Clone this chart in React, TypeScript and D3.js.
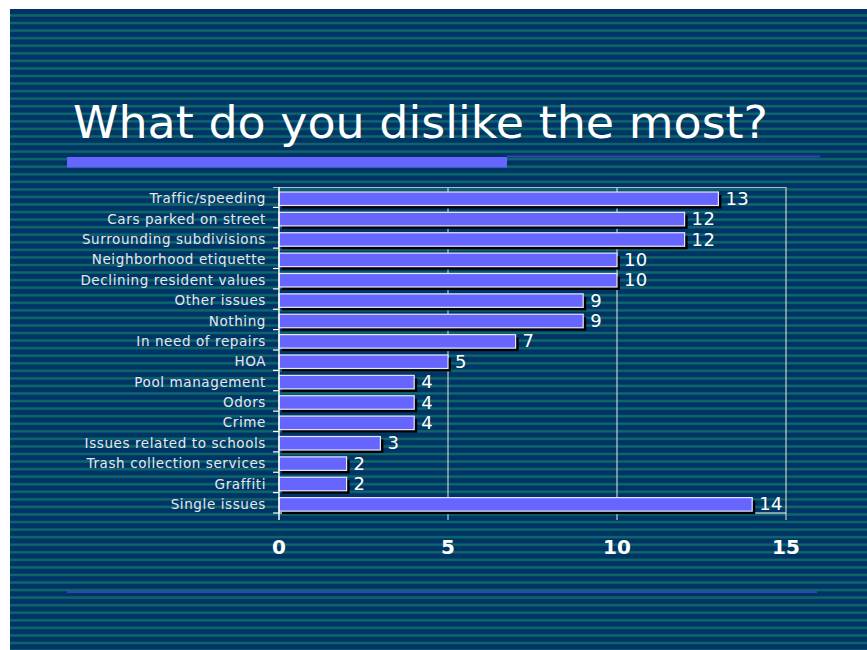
import React from "react";
import * as d3 from "d3";

const categories = [
  "Traffic/speeding",
  "Cars parked on street",
  "Surrounding subdivisions",
  "Neighborhood etiquette",
  "Declining resident values",
  "Other issues",
  "Nothing",
  "In need of repairs",
  "HOA",
  "Pool management",
  "Odors",
  "Crime",
  "Issues related to schools",
  "Trash collection services",
  "Graffiti",
  "Single issues",
];
const values = [13, 12, 12, 10, 10, 9, 9, 7, 5, 4, 4, 4, 3, 2, 2, 14];
const xTicks = [0, 5, 10, 15];
const title = "What do you dislike the most?";

const W = 867;
const H = 650;
const FONT = "'DejaVu Sans', Verdana, sans-serif";

export default function App() {
  const x = d3.scaleLinear().domain([0, 15]).range([279, 786]);
  const y = d3.scaleBand<string>().domain(categories).range([187, 513]).padding(0);

  const stripes: number[] = [];
  for (let s = 14.5 - 7.56; s < H; s += 7.56) stripes.push(s);

  return (
    <svg
      width={W}
      height={H}
      style={{ position: "absolute", left: 0, top: 0, display: "block" }}
      fontFamily={FONT}
    >
      <rect x={0} y={0} width={W} height={H} fill="#ffffff" />
      <rect x={10} y={9} width={W - 10} height={H - 9} fill="#003366" />
      <g>
        {stripes
          .filter((s) => s > 9)
          .map((s, i) => (
            <g key={i}>
              <rect x={10} y={s - 0.5} width={W - 10} height={3} fill="#07506a" />
              <rect x={10} y={s} width={W - 10} height={2} fill="#0e6669" />
            </g>
          ))}
      </g>

      {/* title */}
      <text
        x={73}
        y={138}
        fill="#ffffff"
        fontSize={44}
        textLength={695}
        lengthAdjust="spacingAndGlyphs"
      >
        {title}
      </text>
      <rect x={67} y={157} width={440} height={10.5} fill="#6666ff" />
      <rect x={507} y={155.5} width={313} height={2} fill="#3344bb" />
      <rect x={67} y={591} width={750} height={2} fill="#3344bb" />

      {/* gridlines */}
      {xTicks.slice(1).map((t) => (
        <line
          key={"g" + t}
          x1={x(t)}
          x2={x(t)}
          y1={187}
          y2={520}
          stroke="#e8e8e8"
          strokeWidth={1}
        />
      ))}
      {/* frame */}
      <line x1={273} x2={786} y1={187.5} y2={187.5} stroke="#b8b8c8" strokeWidth={1.2} />
      <line x1={279} x2={786} y1={513} y2={513} stroke="#ffffff" strokeWidth={1.2} />

      {/* bars */}
      {categories.map((c, i) => {
        const top = (y(c) as number) + 5;
        const h = 13.5;
        const w = x(values[i]) - x(0);
        return (
          <g key={c}>
            <rect x={x(0) + 3} y={top + 3} width={w} height={h} fill="#000000" />
            <rect
              x={x(0)}
              y={top}
              width={w}
              height={h}
              fill="#6666ff"
              stroke="#e6e6ff"
              strokeWidth={1.2}
            />
            <text
              x={x(values[i]) + 7}
              y={top + h / 2 + 1}
              dominantBaseline="middle"
              fill="#ffffff"
              fontSize={18}
              letterSpacing={0.4}
            >
              {values[i]}
            </text>
            <text
              x={266}
              y={top + h / 2 + 0.5}
              dominantBaseline="middle"
              textAnchor="end"
              fill="#e6e6f0"
              fontSize={13.5}
              letterSpacing={0.6}
            >
              {c}
            </text>
          </g>
        );
      })}

      {/* y axis */}
      <line x1={279} x2={279} y1={187} y2={520} stroke="#ffffff" strokeWidth={1.5} />
      {categories.map((c) => (
        <line
          key={"t" + c}
          x1={273}
          x2={279}
          y1={(y(c) as number) + y.bandwidth()}
          y2={(y(c) as number) + y.bandwidth()}
          stroke="#ffffff"
          strokeWidth={1.2}
        />
      ))}

      {/* x tick labels */}
      {xTicks.map((t) => (
        <text
          key={"l" + t}
          x={x(t)}
          y={554}
          textAnchor="middle"
          fill="#ffffff"
          fontSize={20}
          fontWeight="bold"
        >
          {t}
        </text>
      ))}
    </svg>
  );
}
